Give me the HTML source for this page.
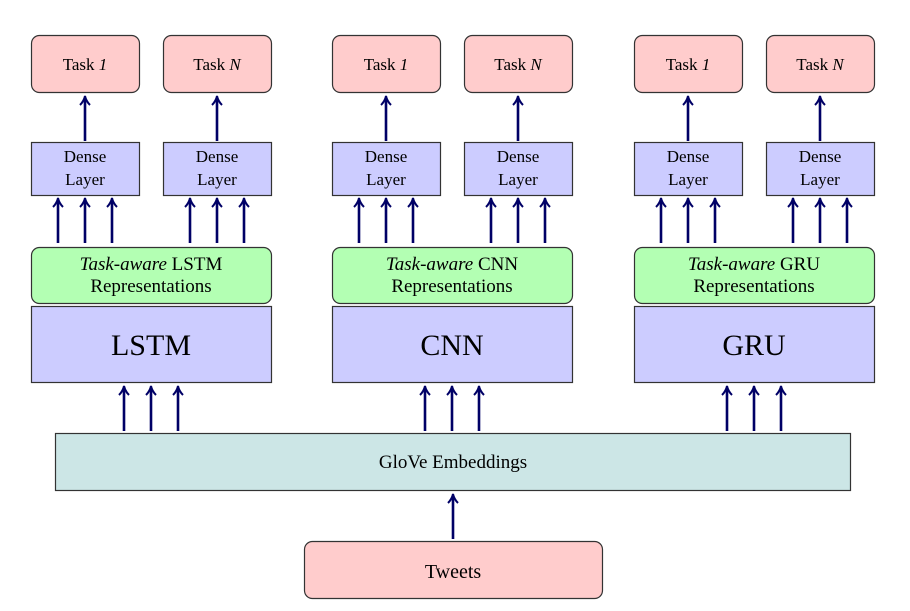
<!DOCTYPE html>
<html><head><meta charset="utf-8"><style>
html,body{margin:0;padding:0;background:#fff}
svg{display:block}
text{font-family:"Liberation Serif",serif;fill:#000;text-anchor:middle}
</style></head><body>
<svg width="910" height="611" viewBox="0 0 910 611" xmlns="http://www.w3.org/2000/svg">
<defs>
<g id="ar"><line x1="0" y1="0" x2="0" y2="-42" stroke="#000066" stroke-width="2.6"/><path d="M-5,-36 Q-1,-40 0,-45 Q1,-40 5,-36" fill="none" stroke="#000066" stroke-width="2"/></g>
<g id="col">
<rect x="31.5" y="35.5" width="108" height="57" rx="8" fill="#ffcccc" stroke="#333" stroke-width="1.2"/>
<rect x="163.5" y="35.5" width="108" height="57" rx="8" fill="#ffcccc" stroke="#333" stroke-width="1.2"/>
<text x="85" y="70" font-size="17">Task <tspan font-style="italic">1</tspan></text>
<text x="217" y="70" font-size="17">Task <tspan font-style="italic">N</tspan></text>
<use href="#ar" x="85" y="141"/><use href="#ar" x="217" y="141"/>
<rect x="31.5" y="142.5" width="108" height="53" fill="#ccccff" stroke="#333" stroke-width="1.2"/>
<rect x="163.5" y="142.5" width="108" height="53" fill="#ccccff" stroke="#333" stroke-width="1.2"/>
<text x="85" y="162" font-size="17">Dense</text><text x="85" y="185" font-size="17">Layer</text>
<text x="217" y="162" font-size="17">Dense</text><text x="217" y="185" font-size="17">Layer</text>
<use href="#ar" x="58" y="243"/><use href="#ar" x="85" y="243"/><use href="#ar" x="112" y="243"/>
<use href="#ar" x="190" y="243"/><use href="#ar" x="217" y="243"/><use href="#ar" x="244" y="243"/>
<rect x="31.5" y="247.5" width="240" height="56" rx="8" fill="#b3ffb3" stroke="#333" stroke-width="1.2"/>
<rect x="31.5" y="306.5" width="240" height="76" fill="#ccccff" stroke="#333" stroke-width="1.2"/>
<use href="#ar" x="124" y="431"/><use href="#ar" x="151" y="431"/><use href="#ar" x="178" y="431"/>
</g>
</defs>
<use href="#col" x="0"/>
<use href="#col" x="301"/>
<use href="#col" x="603"/>
<text x="151" y="270" font-size="19"><tspan font-style="italic">Task-aware</tspan> LSTM</text>
<text x="151" y="292" font-size="19">Representations</text>
<text x="151" y="355" font-size="30">LSTM</text>
<text x="452" y="270" font-size="19"><tspan font-style="italic">Task-aware</tspan> CNN</text>
<text x="452" y="292" font-size="19">Representations</text>
<text x="452" y="355" font-size="30">CNN</text>
<text x="754" y="270" font-size="19"><tspan font-style="italic">Task-aware</tspan> GRU</text>
<text x="754" y="292" font-size="19">Representations</text>
<text x="754" y="355" font-size="30">GRU</text>
<rect x="55.5" y="433.5" width="795" height="57" fill="#cce6e6" stroke="#333" stroke-width="1.2"/>
<text x="453" y="468" font-size="19">GloVe Embeddings</text>
<use href="#ar" x="453" y="539"/>
<rect x="304.5" y="541.5" width="298" height="57" rx="8" fill="#ffcccc" stroke="#333" stroke-width="1.2"/>
<text x="453" y="578" font-size="20">Tweets</text>
</svg>
</body></html>
